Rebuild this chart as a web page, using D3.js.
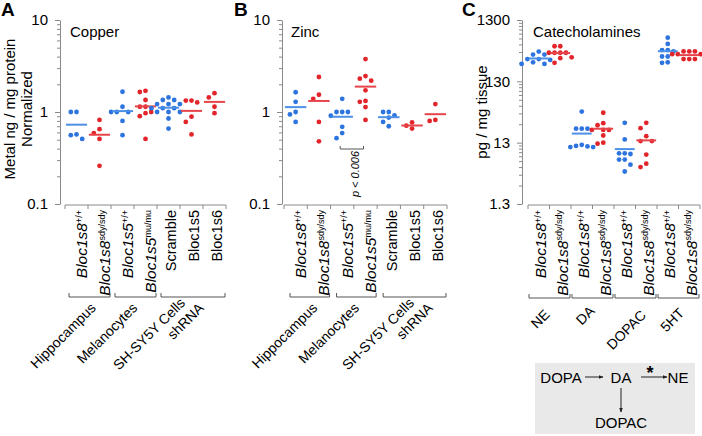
<!DOCTYPE html>
<html>
<head>
<meta charset="utf-8">
<script src="https://cdn.jsdelivr.net/npm/d3@7"></script>
<style>
	body { margin: 0; background: #fff; }
	svg { display: block; font-family: Arial, "Liberation Sans", sans-serif; }
</style>
</head>
<body>
<svg width="702" height="436"></svg>
<script>
// @ Data
const metalCats = ["Bloc1s8", "Bloc1s8", "Bloc1s5", "Bloc1s5", "Scramble", "Bloc1s5", "Bloc1s6"];
const metalSups = ["+/+", "sdy/sdy", "+/+", "mu/mu", "", "", ""];
const metalItalic = [true, true, true, true, false, false, false];
const metalType = ["ctrl", "mut", "ctrl", "mut", "ctrl", "mut", "mut"];
const metalGroupLabels = [["Hippocampus"], ["Melanocytes"], ["SH-SY5Y Cells", "shRNA"]];
const metalGroupSizes = [2, 2, 3];

const copper = [
	[1.0, 1.0, 0.56, 0.51, 0.57],
	[0.82, 0.65, 0.59, 0.51, 0.26],
	[1.66, 1.14, 1.0, 1.0, 1.0, 0.8, 0.56],
	[1.7, 1.65, 1.35, 1.14, 1.14, 0.97, 0.9, 1.0, 0.51],
	[1.44, 1.35, 1.35, 1.22, 1.22, 1.22, 1.1, 1.1, 1.1, 1.0, 1.0, 1.0, 0.85, 0.66],
	[1.33, 1.27, 1.33, 0.89, 0.78, 0.57],
	[1.44, 1.6, 1.14, 0.97],
];

const zinc = [
	[1.64, 1.29, 0.94, 1.0, 0.78],
	[2.4, 1.54, 1.39, 0.78, 0.48],
	[1.39, 1.0, 1.0, 1.0, 0.91, 0.69, 0.59, 0.52],
	[3.76, 2.3, 2.46, 2.19, 1.72, 1.29, 1.32, 1.13, 0.82],
	[1.0, 1.0, 0.92, 0.87, 0.78, 0.7],
	[0.71, 0.66, 0.77],
	[1.22, 0.82, 0.8],
];

const catCats = ["Bloc1s8", "Bloc1s8", "Bloc1s8", "Bloc1s8", "Bloc1s8", "Bloc1s8", "Bloc1s8", "Bloc1s8"];
const catSups = ["+/+", "sdy/sdy", "+/+", "sdy/sdy", "+/+", "sdy/sdy", "+/+", "sdy/sdy"];
const catItalic = [true, true, true, true, true, true, true, true];
const catType = ["ctrl", "mut", "ctrl", "mut", "ctrl", "mut", "ctrl", "mut"];
const catGroupLabels = [["NE"], ["DA"], ["DOPAC"], ["5HT"]];
const catGroupSizes = [2, 2, 2, 2];

const catechol = [
	[397, 355, 355, 300, 290, 300, 250, 250, 265],
	[485, 485, 380, 380, 380, 380, 320, 310, 260],
	[41.8, 22, 22, 22, 12, 11.5, 11.3, 11, 11],
	[40, 27, 25, 21, 21, 21, 17, 13, 12.5],
	[27.4, 14.7, 8.7, 8.7, 8.5, 6.9, 6.9, 5.7, 4.4],
	[27.4, 22.4, 16.6, 13.8, 13.8, 8.3, 5.9, 5.2],
	[670, 530, 420, 420, 400, 330, 330, 265, 260],
	[400, 400, 400, 360, 360, 360, 300, 300, 300, 300],
];

const metalTicks = [0.1, 1, 10];
const metalTickLabels = ["0.1", "1", "10"];
const catTicks = [1.3, 13, 130, 1300];
const catTickLabels = ["1.3", "13", "130", "1300"];

// @ Styles
const dotColor = d3.scaleOrdinal().domain(["ctrl", "mut"]).range(["#2d74df", "#e2252b"]);
const lineColor = d3.scaleOrdinal().domain(["ctrl", "mut"]).range(["#4c90e6", "#e6464b"]);
const axisColor = "#8a8a8a";
const svg = d3.select("svg");

// simple beeswarm: spread points of similar value sideways
const swarm = (vals, y, s) => {
	const pts = vals.map((v) => ({ v, y: y(v) })).sort((a, b) => a.y - b.y);
	const placed = [];
	pts.forEach((p) => {
		for (let k = 0; k < 40; k++) {
			const off = k === 0 ? 0 : (k % 2 ? -1 : 1) * Math.ceil(k / 2) * s;
			if (placed.every((q) => Math.hypot(q.off - off, q.y - p.y) >= s * 0.95)) {
				p.off = off;
				placed.push(p);
				break;
			}
		}
	});
	return placed;
};

function drawPanel(cfg) {
	const g = svg.append("g");
	const y = d3.scaleLog().domain(cfg.domain).range([cfg.yBottom, cfg.yTop]);
	const x = d3.scaleBand().domain(d3.range(cfg.data.length)).range(cfg.xRange);
	const bw = x.bandwidth();

	// y axis with minor ticks
	const minors = [];
	cfg.ticks.slice(0, -1).forEach((t) => {
		d3.range(2, 10).forEach((k) => minors.push(t * k));
	});
	const allTicks = cfg.ticks.concat(minors);
	const isMajor = (d) => cfg.ticks.some((t) => Math.abs(t - d) < 1e-9);
	const yAxis = g
		.append("g")
		.attr("transform", `translate(${cfg.axisX},0)`)
		.call(
			d3
				.axisLeft(y)
				.tickValues(allTicks)
				.tickSizeOuter(0)
				.tickPadding(6)
				.tickFormat((d) => {
					const i = cfg.ticks.findIndex((t) => Math.abs(t - d) < 1e-9);
					return i >= 0 ? cfg.tickLabels[i] : "";
				})
		);
	yAxis.select(".domain").attr("stroke", axisColor);
	yAxis
		.selectAll(".tick line")
		.attr("stroke", axisColor)
		.attr("x2", (d) => (isMajor(d) ? -5 : -3));
	yAxis
		.selectAll(".tick text")
		.attr("fill", "#000")
		.style("font-size", "15px")
		.style("font-family", "Arial, 'Liberation Sans', sans-serif");

	// x axis (ticks between categories)
	const xa = g.append("g").attr("stroke", axisColor).attr("fill", "none");
	xa.append("line")
		.attr("x1", cfg.xRange[0])
		.attr("x2", cfg.xRange[1])
		.attr("y1", cfg.xAxisY)
		.attr("y2", cfg.xAxisY);
	xa.selectAll("line.tk")
		.data(d3.range(cfg.data.length + 1))
		.enter()
		.append("line")
		.attr("class", "tk")
		.attr("x1", (i) => (i < cfg.data.length ? x(i) : cfg.xRange[1]))
		.attr("x2", (i) => (i < cfg.data.length ? x(i) : cfg.xRange[1]))
		.attr("y1", cfg.xAxisY)
		.attr("y2", cfg.xAxisY + 4);

	// dots + mean lines
	cfg.data.forEach((vals, i) => {
		const cx = x(i) + bw / 2;
		const pts = swarm(vals, y, 5.7);
		g.append("g")
			.selectAll("circle")
			.data(pts)
			.enter()
			.append("circle")
			.attr("cx", (d) => cx + d.off)
			.attr("cy", (d) => d.y)
			.attr("r", 2.4)
			.attr("fill", dotColor(cfg.types[i]));
		const m = d3.mean(vals);
		g.append("line")
			.attr("x1", cx - bw * 0.46)
			.attr("x2", cx + bw * 0.46)
			.attr("y1", y(m))
			.attr("y2", y(m))
			.attr("stroke", lineColor(cfg.types[i]))
			.attr("stroke-width", 2);
	});

	// category labels (vertical)
	const labels = g
		.selectAll("g.cat")
		.data(cfg.cats)
		.enter()
		.append("g")
		.attr("class", "cat")
		.attr(
			"transform",
			(d, i) =>
				`translate(${x(i) + bw / 2 + (cfg.italic[i] ? cfg.labelDx[0] : cfg.labelDx[1])},${cfg.xAxisY + 5}) rotate(-90)`
		)
		.append("text")
		.attr("text-anchor", "end");
	labels
		.append("tspan")
		.text((d) => d)
		.style("font-size", (d, i) => (cfg.italic[i] ? "15.5px" : "14.5px"))
		.style("font-style", (d, i) => (cfg.italic[i] ? "italic" : "normal"));
	labels
		.append("tspan")
		.text((d, i) => cfg.sups[i])
		.attr("dy", "-0.6em")
		.style("font-size", "9px")
		.style("font-style", "normal");

	// group brackets + slanted group names
	let start = 0;
	cfg.groupSizes.forEach((n, gi) => {
		const x0 = x(start) + cfg.bracketInset[0];
		const x1 = x(start + n - 1) + bw - cfg.bracketInset[1];
		start += n;
		const by = cfg.bracketY;
		g.append("path")
			.attr("d", `M${x0},${by - 4}V${by}H${x1}V${by - 4}`)
			.attr("fill", "none")
			.attr("stroke", "#555");
		const lines = cfg.groupLabels[gi];
		const two = lines.length > 1;
		const [gdx, gdy] = cfg.groupOff[gi];
		const lg = g
			.append("g")
			.attr("transform", `translate(${(x0 + x1) / 2 + gdx},${by + gdy}) rotate(-45)`);
		lines.forEach((s, li) => {
			lg.append("text")
				.attr("x", two ? (li === 0 ? -7 : 2.7) : 0)
				.attr("y", two ? (li === 0 ? -9 : 7.8) : 0)
				.attr("text-anchor", "end")
				.style("font-size", "14px")
				.text(s);
		});
	});

	// title + panel letter
	g.append("text").attr("x", cfg.titleX).attr("y", 37).style("font-size", "15px").text(cfg.title);
	g.append("text")
		.attr("x", cfg.letterX)
		.attr("y", 16)
		.style("font-size", "19px")
		.style("font-weight", "bold")
		.text(cfg.letter);

	// y label
	cfg.ylabel.forEach((s, li) => {
		g.append("g")
			.attr("transform", `translate(${cfg.ylabelX + li * 17},${cfg.ylabelY}) rotate(-90)`)
			.append("text")
			.attr("text-anchor", "middle")
			.style("font-size", "15px")
			.text(s);
	});

	return { x, y, g, bw };
}

drawPanel({
	letter: "A",
	letterX: 1,
	title: "Copper",
	titleX: 70,
	ylabel: ["Metal ng / mg protein", "Normalized"],
	ylabelX: 15,
	ylabelY: 109,
	data: copper,
	cats: metalCats,
	sups: metalSups,
	italic: metalItalic,
	types: metalType,
	groupLabels: metalGroupLabels,
	groupSizes: metalGroupSizes,
	domain: [0.1, 10],
	ticks: metalTicks,
	tickLabels: metalTickLabels,
	axisX: 60,
	yTop: 20,
	yBottom: 204,
	xRange: [65, 226],
	xAxisY: 205,
	labelDx: [10.5, 7],
	bracketY: 297,
	bracketInset: [4, 1],
	groupOff: [[7.3, 11.8], [2.8, 11.8], [4.3, 8.3]],
});

const pB = drawPanel({
	letter: "B",
	letterX: 234,
	title: "Zinc",
	titleX: 291,
	ylabel: [],
	ylabelX: 0,
	ylabelY: 0,
	data: zinc,
	cats: metalCats,
	sups: metalSups,
	italic: metalItalic,
	types: metalType,
	groupLabels: metalGroupLabels,
	groupSizes: metalGroupSizes,
	domain: [0.1, 10],
	ticks: metalTicks,
	tickLabels: metalTickLabels,
	axisX: 282,
	yTop: 20,
	yBottom: 204,
	xRange: [284, 447],
	xAxisY: 205,
	labelDx: [10.5, 8],
	bracketY: 297,
	bracketInset: [6, 1],
	groupOff: [[8.5, 11.8], [3.5, 11.8], [11.7, 8.3]],
});

// p-value bracket in B
{
	const xa = pB.x(2) + pB.bw / 2 - 2;
	const xb = pB.x(3) + pB.bw / 2 - 2;
	pB.g
		.append("path")
		.attr("d", `M${xa},${146}V${149}H${xb}V${146}`)
		.attr("fill", "none")
		.attr("stroke", "#555");
	pB.g
		.append("g")
		.attr("transform", `translate(${(xa + xb) / 2 + 7},174) rotate(-90)`)
		.append("text")
		.attr("text-anchor", "middle")
		.style("font-size", "11px")
		.style("font-style", "italic")
		.text("p < 0.006");
}

drawPanel({
	letter: "C",
	letterX: 462,
	title: "Catecholamines",
	titleX: 533,
	ylabel: ["pg / mg tissue"],
	ylabelX: 487,
	ylabelY: 112,
	data: catechol,
	cats: catCats,
	sups: catSups,
	italic: catItalic,
	types: catType,
	groupLabels: catGroupLabels,
	groupSizes: catGroupSizes,
	domain: [1.3, 1300],
	ticks: catTicks,
	tickLabels: catTickLabels,
	axisX: 522,
	yTop: 20,
	yBottom: 204,
	xRange: [528, 700],
	xAxisY: 205,
	labelDx: [7.5, 7.5],
	bracketY: 298,
	bracketInset: [1, 1],
	groupOff: [[1, 17.5], [3, 14], [11.5, 18], [6.5, 16]],
});

// @ Pathway box
const box = svg.append("g");
box.append("rect").attr("x", 535).attr("y", 363).attr("width", 160).attr("height", 71).attr("fill", "#e9e9e9");
const defs = svg.append("defs");
defs.append("marker")
	.attr("id", "arr")
	.attr("viewBox", "0 0 10 10")
	.attr("refX", 9)
	.attr("refY", 5)
	.attr("markerWidth", 5)
	.attr("markerHeight", 5)
	.attr("orient", "auto")
	.append("path")
	.attr("d", "M0,1L10,5L0,9Z")
	.attr("fill", "#222");
const pathway = [
	{ t: "DOPA", x: 561, y: 383 },
	{ t: "DA", x: 621, y: 383 },
	{ t: "NE", x: 678, y: 383 },
	{ t: "DOPAC", x: 621, y: 428 },
];
box.selectAll("text.pw")
	.data(pathway)
	.enter()
	.append("text")
	.attr("x", (d) => d.x)
	.attr("y", (d) => d.y)
	.attr("text-anchor", "middle")
	.style("font-size", "15px")
	.text((d) => d.t);
const arrows = [
	[585, 377, 603, 377],
	[641, 377, 667, 377],
	[621, 388, 621, 412],
];
box.selectAll("line.ar")
	.data(arrows)
	.enter()
	.append("line")
	.attr("x1", (d) => d[0])
	.attr("y1", (d) => d[1])
	.attr("x2", (d) => d[2])
	.attr("y2", (d) => d[3])
	.attr("stroke", "#222")
	.attr("stroke-width", 1)
	.attr("marker-end", "url(#arr)");
box.append("text").attr("x", 650).attr("y", 379).attr("text-anchor", "middle").style("font-size", "18px").style("font-weight", "bold").text("*");
</script>
</body>
</html>
